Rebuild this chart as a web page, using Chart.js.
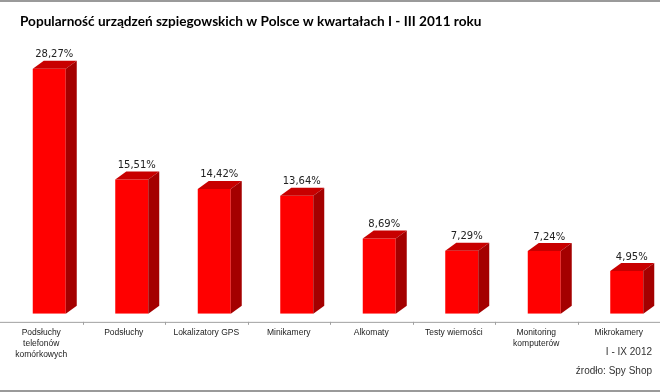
<!DOCTYPE html>
<html>
<head>
<meta charset="utf-8">
<script src="https://cdn.jsdelivr.net/npm/chart.js@4/dist/chart.umd.min.js"></script>
<style>
  html, body { margin: 0; padding: 0; background: #fff; }
  #wrap { width: 660px; height: 392px; position: relative; }
</style>
</head>
<body>
<div id="wrap"><canvas id="spy-chart"></canvas></div>
<script>
const categories = [
  ["Podsłuchy", "telefonów", "komórkowych"],
  "Podsłuchy",
  "Lokalizatory GPS",
  "Minikamery",
  "Alkomaty",
  "Testy wierności",
  ["Monitoring", "komputerów"],
  "Mikrokamery",
];
const shares = [28.27, 15.51, 14.42, 13.64, 8.69, 7.29, 7.24, 4.95];
const chartTitle = "Popularność urządzeń szpiegowskich w Polsce w kwartałach I - III 2011 roku";
const footerLines = ["I - IX 2012", "źrodło: Spy Shop"];

const fmt = (v) => v.toFixed(2).replace(".", ",") + "%";

// bars are pushed a bit right of the category centre, like the excel 3d look
const shift = 8;
const depth = { dx: 11, dy: -8 };

const bars3d = {
  id: "bars3d",
  beforeDraw(chart) {
    const { ctx, width, height } = chart;
    ctx.save();
    ctx.fillStyle = "#fff";
    ctx.fillRect(0, 0, width, height);
    ctx.fillStyle = "#9a9a9a";
    ctx.fillRect(0, 0, width, 2);
    ctx.fillRect(0, height - 2, width, 2);
    // title, drawn here so it can sit indented from the plot edge
    ctx.fillStyle = "#000";
    ctx.font = "bold 13.6px Lato";
    ctx.textAlign = "left";
    ctx.textBaseline = "middle";
    ctx.fillText(chartTitle, 20, 22);
    ctx.restore();
  },
  beforeDatasetsDraw(chart) {
    const { ctx } = chart;
    const x = chart.scales.x;
    const base = chart.scales.y.getPixelForValue(0);
    const floorY = base + 8;
    ctx.save();
    ctx.strokeStyle = "#a0a0a0";
    ctx.lineWidth = 1;
    ctx.beginPath();
    ctx.moveTo(0, floorY + 0.5);
    ctx.lineTo(chart.width, floorY + 0.5);
    const step = x.getPixelForValue(1) - x.getPixelForValue(0);
    for (let i = 1; i < categories.length; i++) {
      const bx = Math.round(x.getPixelForValue(i) - step / 2) + 0.5;
      ctx.moveTo(bx, floorY);
      ctx.lineTo(bx, floorY + 3);
    }
    ctx.stroke();
    ctx.restore();

    ctx.save();
    ctx.translate(shift, 0);
  },
  afterDatasetsDraw(chart) {
    const { ctx } = chart;
    const meta = chart.getDatasetMeta(0);
    meta.data.forEach((bar, i) => {
      const { x, y, base, width } = bar.getProps(["x", "y", "base", "width"], true);
      const l = x - width / 2;
      const r = x + width / 2;
      // top face
      ctx.fillStyle = "#c80000";
      ctx.beginPath();
      ctx.moveTo(l, y);
      ctx.lineTo(l + depth.dx, y + depth.dy);
      ctx.lineTo(r + depth.dx, y + depth.dy);
      ctx.lineTo(r, y);
      ctx.closePath();
      ctx.fill();
      // side face
      ctx.fillStyle = "#a40000";
      ctx.beginPath();
      ctx.moveTo(r, y);
      ctx.lineTo(r + depth.dx, y + depth.dy);
      ctx.lineTo(r + depth.dx, base + depth.dy);
      ctx.lineTo(r, base);
      ctx.closePath();
      ctx.fill();
      // value label
      ctx.fillStyle = "#222";
      ctx.font = "10px 'DejaVu Sans'";
      ctx.textAlign = "center";
      ctx.textBaseline = "bottom";
      ctx.fillText(fmt(shares[i]), x + 5, y + depth.dy - 1);
    });
    ctx.restore();
  },
  afterDraw(chart) {
    const { ctx } = chart;
    ctx.save();
    ctx.fillStyle = "#333";
    ctx.font = "10px 'Liberation Sans'";
    ctx.textAlign = "right";
    ctx.textBaseline = "middle";
    ctx.fillText(footerLines[0], 652, 352);
    ctx.fillText(footerLines[1], 652, 371);
    ctx.restore();
  },
};

new Chart(document.getElementById("spy-chart"), {
  type: "bar",
  data: {
    labels: categories,
    datasets: [
      {
        data: shares,
        backgroundColor: "#ff0000",
        borderWidth: 0,
        barPercentage: 0.4,
        categoryPercentage: 1,
      },
    ],
  },
  options: {
    responsive: true,
    maintainAspectRatio: false,
    animation: false,
    layout: { padding: { left: 0, right: 0, top: 40, bottom: 19 } },
    plugins: {
      legend: { display: false },
      tooltip: { enabled: false },
      title: { display: false },
    },
    scales: {
      x: {
        grid: { display: false, drawTicks: false },
        border: { display: false },
        ticks: {
          color: "#222",
          padding: 13,
          maxRotation: 0,
          autoSkip: false,
          font: { family: "Liberation Sans", size: 8.5, lineHeight: 1.3 },
        },
      },
      y: {
        display: false,
        min: 0,
        max: 31.6,
      },
    },
  },
  plugins: [bars3d],
});
</script>
</body>
</html>
